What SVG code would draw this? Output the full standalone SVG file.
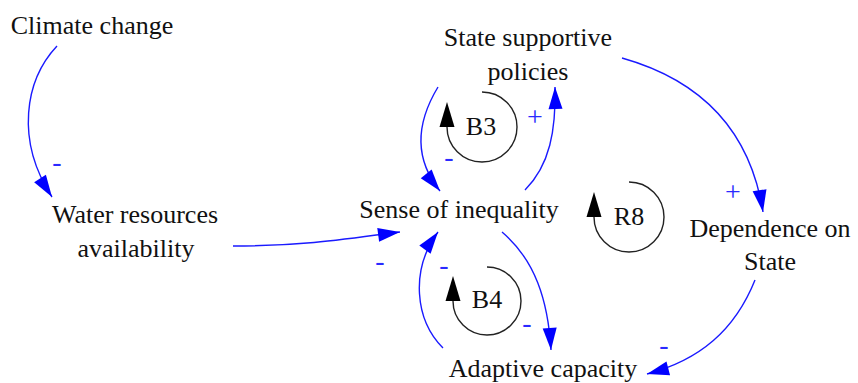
<svg xmlns="http://www.w3.org/2000/svg" width="858" height="383" viewBox="0 0 858 383">
<style>
text{font-family:"Liberation Serif",serif}
.lbl{font-size:26px;fill:#111;text-anchor:middle}
.pol{font-size:28px;fill:#2a2aff;text-anchor:middle}
.link{fill:none;stroke:#1a1aff;stroke-width:1.4}
.loop{fill:none;stroke:#222;stroke-width:1.4}
</style>
<defs>
<marker id="ab" markerUnits="userSpaceOnUse" markerWidth="26" markerHeight="18" viewBox="-24 -9 26 18" refX="0" refY="0" orient="auto">
<path d="M0,0 L-22,-7 L-22,7 z" fill="#0000ff"/>
</marker>
<marker id="ak" markerUnits="userSpaceOnUse" markerWidth="30" markerHeight="18" viewBox="-2 -9 30 18" refX="0" refY="0" orient="auto">
<path d="M0,-7.5 L25,0 L0,7.5 z" fill="#000"/>
</marker>
</defs>
<g id="connectors" font-family="Liberation Serif, serif">
<path class="link" d="M57,46 C25,80 15,140 52,197" marker-end="url(#ab)"/>
<path class="link" d="M233,246 C300,246 340,240 400,232" marker-end="url(#ab)"/>
<path class="link" d="M525,190 C550,165 556,130 555,87" marker-end="url(#ab)"/>
<path class="link" d="M438,87 C415,125 415,160 440,191" marker-end="url(#ab)"/>
<path class="link" d="M443,348 C415,320 410,270 438,232" marker-end="url(#ab)"/>
<path class="link" d="M502,232 C535,260 548,300 551,350" marker-end="url(#ab)"/>
<path class="link" d="M622,58 C700,80 750,130 763,212" marker-end="url(#ab)"/>
<path class="link" d="M755,280 C735,330 700,360 647,374" marker-end="url(#ab)"/>
<text class="pol" x="57" y="171" font-family="Liberation Serif, serif">-</text>
<text class="pol" x="380" y="270" font-family="Liberation Serif, serif">-</text>
<text class="pol" x="449" y="166" font-family="Liberation Serif, serif">-</text>
<text class="pol" x="444" y="274" font-family="Liberation Serif, serif">-</text>
<text class="pol" x="527" y="332" font-family="Liberation Serif, serif">-</text>
<text class="pol" x="664" y="354" font-family="Liberation Serif, serif">-</text>
<text class="pol" x="535" y="126" font-family="Liberation Serif, serif">+</text>
<text class="pol" x="733" y="201" font-family="Liberation Serif, serif">+</text>
</g>
<g id="loop-B3">
<path class="loop" d="M482,92 A35,35 0 1 1 447,127" marker-end="url(#ak)"/>
<text class="lbl" x="481" y="135" font-family="Liberation Serif, serif">B3</text>
</g>
<g id="loop-B4">
<path class="loop" d="M487,267 A34,34 0 1 1 453,301" marker-end="url(#ak)"/>
<text class="lbl" x="487" y="308" font-family="Liberation Serif, serif">B4</text>
</g>
<g id="loop-R8">
<path class="loop" d="M629,182 A35,35 0 1 1 594,217" marker-end="url(#ak)"/>
<text class="lbl" x="629" y="225" font-family="Liberation Serif, serif">R8</text>
</g>
<g id="climate-change"><text class="lbl" x="92" y="34" font-family="Liberation Serif, serif">Climate change</text></g>
<g id="state-supportive-policies"><text class="lbl" x="528" y="46" font-family="Liberation Serif, serif">State supportive</text><text class="lbl" x="528" y="80" font-family="Liberation Serif, serif">policies</text></g>
<g id="water-resources-availability"><text class="lbl" x="135" y="223" font-family="Liberation Serif, serif">Water resources</text><text class="lbl" x="136" y="257" font-family="Liberation Serif, serif">availability</text></g>
<g id="sense-of-inequality"><text class="lbl" x="459" y="218" font-family="Liberation Serif, serif">Sense of inequality</text></g>
<g id="dependence-on-state"><text class="lbl" x="770" y="237" font-family="Liberation Serif, serif">Dependence on</text><text class="lbl" x="770" y="270" font-family="Liberation Serif, serif">State</text></g>
<g id="adaptive-capacity"><text class="lbl" x="543" y="377" font-family="Liberation Serif, serif">Adaptive capacity</text></g>
</svg>
